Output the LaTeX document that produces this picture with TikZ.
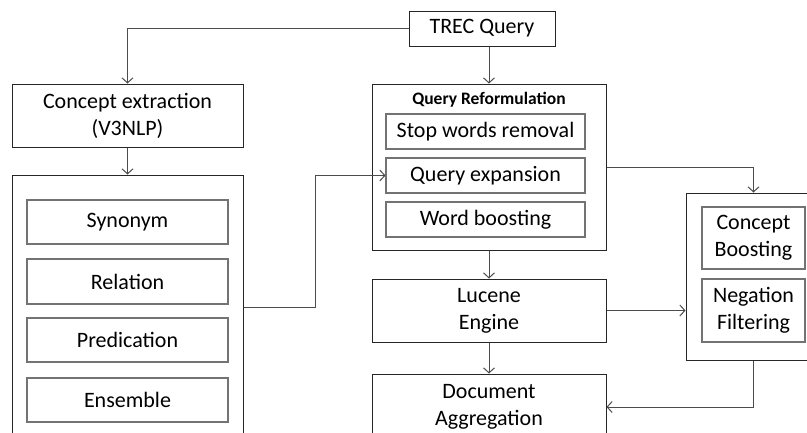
\documentclass[tikz,border=0pt]{standalone}
\usepackage{fontspec}
\setmainfont{Carlito}
\usetikzlibrary{arrows.meta}
\begin{document}
\begin{tikzpicture}[x=1pt,y=-1pt,
  box/.style={draw=black!85,line width=1pt,inner sep=0pt,align=center,font=\fontsize{22}{27}\selectfont},
  ibox/.style={draw=black!55,line width=1.1pt,inner sep=0pt,align=center,font=\fontsize{22}{27}\selectfont},
  arr/.style={draw=black!70,line width=1pt,-{Straight Barb[length=5pt,width=11pt,line width=1pt]}},
  ttl/.style={font=\bfseries\fontsize{17.5}{20}\selectfont,inner sep=0pt}]
\useasboundingbox (0,0) rectangle (807,432);
\clip (0,0) rectangle (807,432);
% nodes
\node[box,minimum width=146pt,minimum height=35pt] (trec) at (482,28.5) {TREC Query};
\node[box,minimum width=231pt,minimum height=63pt] (cext) at (127.5,115.5) {Concept extraction\\(V3NLP)};
\node[box,minimum width=231pt,minimum height=265pt] (left) at (127.5,307.5) {};
\node[ibox,minimum width=201pt,minimum height=44pt] (syn) at (127.5,222) {Synonym};
\node[ibox,minimum width=201pt,minimum height=45pt] (rel) at (127.5,281.5) {Relation};
\node[ibox,minimum width=201pt,minimum height=44pt] (pred) at (127.5,340) {Predication};
\node[ibox,minimum width=201pt,minimum height=44pt] (ens) at (127.5,400) {Ensemble};
\node[box,minimum width=234pt,minimum height=166pt] (qr) at (489,167) {};
\node[ttl] (qrt) at (489,100) {Query Reformulation};
\node[ibox,minimum width=199pt,minimum height=35pt] (stop) at (485.5,131.5) {Stop words removal};
\node[ibox,minimum width=199pt,minimum height=35pt] (qexp) at (485.5,175.5) {Query expansion};
\node[ibox,minimum width=199pt,minimum height=35pt] (wb) at (485.5,219.5) {Word boosting};
\node[box,minimum width=234pt,minimum height=63pt] (luc) at (489,310.5) {Lucene\\Engine};
\node[box,minimum width=234pt,minimum height=66pt] (doc) at (489,407) {Document\\Aggregation};
\node[box,minimum width=124pt,minimum height=167pt] (rb) at (748,276.5) {};
\node[ibox,minimum width=103pt,minimum height=62pt] (cb) at (753.5,238) {Concept\\Boosting};
\node[ibox,minimum width=103pt,minimum height=63pt] (nf) at (753.5,310.5) {Negation\\Filtering};
\coordinate (j1) at (315,175.5);
% connectors
\draw[arr] (trec.west) -| (cext.north);
\draw[arr] (trec.south -| qr.north) -- (qr.north);
\draw[arr] (cext.south) -- (left.north);
\draw[arr] (left.east) -| (j1) -- (qexp.west);
\draw[arr] (qr.east) -| (rb.north -| cb.north);
\draw[arr] (qr.south) -- (luc.north);
\draw[arr] (luc.east) -- (luc.east -| rb.west);
\draw[arr] (luc.south) -- (doc.north);
\draw[arr] (rb.south -| cb.south) |- (doc.east);
\end{tikzpicture}
\end{document}
